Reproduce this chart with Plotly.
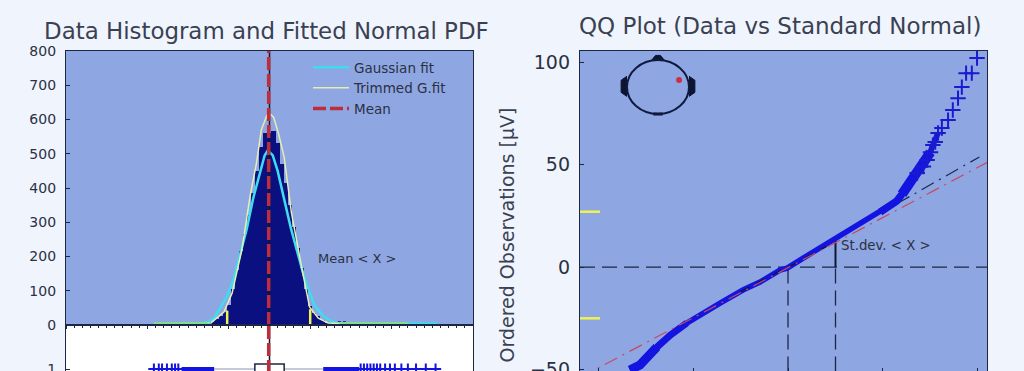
import plotly.graph_objects as go

# Histogram (bin centres in µV, counts)
hist_x = [-37.5,-35,-32.5,-30,-27.5,-25,-22.5,-20,-17.5,-15,-12.5,-10,-7.5,-5,-2.5,0,2.5,5,7.5,10,12.5,15,17.5,20,22.5,25,27.5,30,32.5,35,37.5]
hist_y = [3,8,18,27,38,58,105,160,215,265,320,385,450,520,560,560,565,530,470,415,350,285,225,165,105,55,35,25,15,7,3]
# Fitted curves
gauss_x = [-71,-45,-37.5,-34,-31,-26,-22,-18,-14,-10,-6,-3,-1,2,5,9,13,17,21,25,27.6,33,37,41,103]
gauss_y = [4,4,9,20,44,85,135,205,280,370,445,495,510,495,450,370,285,215,145,90,58,26,14,6,4]
trim_x = [-71,-45,-36,-28,-23,-17,-12,-8,-5,-2,-0.5,2.5,5.5,9,13.5,19.7,24.6,30,36,45,85]
trim_y = [4,4,6,38,93,219,374,473,570,607,620,607,560,490,327,170,53,20,6,4,4]
tail_low_x, tail_high_x = [-71,-38], [43,85]
tail_low_y, tail_high_y = [5,5], [5,5]
mean_x = [-0.5,-0.5]
mean_y = [0,800]
trim_mark_low_x, trim_mark_high_x = [-26,-26], [25,25]
trim_mark_low_y, trim_mark_high_y = [0,42], [0,46]
stray_x, stray_y = [42,48], [9,9]
# Boxplot row
box_x = [-9,-9,9,9,-9]
box_y = [0.8,1.25,1.25,0.8,0.8]
whisk_low_x, whisk_high_x = [-34,-9], [9,33]
solid_low_x, solid_high_x = [-54,-34], [33,55]
fliers_x = [-71,-68,-66,-63,-60,-58,-56,56,58,60,62,64,66,68,71,74,77,81,85,90,96,102]
fliers_y = [1]*len(fliers_x)
# QQ curve
qq_x = [-3.33,-3.12,-2.76,-2.48,-2.13,-1.79,-1.43,-0.95,-0.59,-0.17,-0.02,0.32,0.95,1.37,1.94,2.15,2.29,2.4,2.51,2.62,2.72,2.83,2.93,3.05,3.16]
qq_y = [-50.2,-47.8,-39.0,-33.2,-27.3,-22.4,-17.6,-11.2,-7.3,-1.5,-0.5,4.4,13.2,19.0,26.8,29.5,32.2,35.5,39.0,42.2,45.9,49,52.2,59.5,65.4]
qq_low_x, qq_low_y = [-3.33,-3.12,-2.76], [-50.2,-47.8,-39.0]
qq_lowmid_x, qq_lowmid_y = [-2.76,-2.48,-2.13], [-39.0,-33.2,-27.3]
qq_highmid_x, qq_highmid_y = [1.94,2.15,2.29,2.4], [26.8,29.5,32.2,35.5]
qq_high_x, qq_high_y = [2.4,2.51,2.62,2.72,2.83,2.93,3.0], [35.5,39.0,42.2,45.9,49,52.2,56]
tail_x = [2.72,2.85,2.93,3.0,3.05,3.1,3.16,3.24,3.37,3.47,3.58,3.66,3.75,3.87,3.98]
tail_y = [45.9,49,52.2,56,59.5,61,65.4,67.8,71.7,76.6,82.4,87.8,94.6,94.6,102]
red_x, red_y = [-4.38,4.19], [-53.9,51]
black_x, black_y = [2.3,4.03], [31,53.7]
black_core_x, black_core_y = [-1.0,-0.1,0.1,0.8], [-12,-1,1,10]
# Head inset
nose_x, nose_y = [-0.2,-0.08,0.08,0.2], [1.0,1.17,1.17,1.0]
lear_x, lear_y = [-1,-1.19,-1.19,-1], [0.4,0.25,-0.2,-0.35]
rear_x, rear_y = [1,1.19,1.19,1], [0.4,0.25,-0.2,-0.35]
chin_x, chin_y = [-0.15,0.15], [-1,-1]
elec_x, elec_y = [0.68], [0.26]

BG = "#eff4fd"; PLOT = "#8ea6e2"; FRAME = "#1c2745"; NAVY = "#0a1080"; BLUE = "#1414e0"
TXT = "#2b3142"; CYAN = "#3fdcf0"; PALE = "#e6eeb0"; RED = "#bd2e3c"; YEL = "#f2f250"; GREEN = "#80dc90"
FONT = "DejaVu Sans"

W, H = 1024, 371
def dx(a, b): return [a/W, b/W]
def dy(top, bot): return [1-bot/H, 1-top/H]

fig = go.Figure()
def L(**k): fig.add_trace(go.Scatter(mode="lines", hoverinfo="skip", showlegend=k.pop("showlegend", False), **k))

# upper left
fig.add_trace(go.Bar(x=hist_x, y=hist_y, width=2.6, marker=dict(color=NAVY, line_width=0), showlegend=False, xaxis="x", yaxis="y"))
L(x=stray_x, y=stray_y, line=dict(color=NAVY, width=1.5, dash="3px,2px"), xaxis="x", yaxis="y")
L(x=gauss_x, y=gauss_y, name="Gaussian fit", showlegend=True, line=dict(color=CYAN, width=2.5), xaxis="x", yaxis="y")
L(x=trim_x, y=trim_y, name="Trimmed G.fit", showlegend=True, line=dict(color=PALE, width=1.5), xaxis="x", yaxis="y")
L(x=tail_low_x, y=tail_low_y, line=dict(color=GREEN, width=2.5), xaxis="x", yaxis="y")
L(x=tail_high_x, y=tail_high_y, line=dict(color=GREEN, width=2.5), xaxis="x", yaxis="y")
L(x=trim_mark_low_x, y=trim_mark_low_y, line=dict(color=YEL, width=2.5), xaxis="x", yaxis="y")
L(x=trim_mark_high_x, y=trim_mark_high_y, line=dict(color=YEL, width=2.5), xaxis="x", yaxis="y")
L(x=[0,0], y=mean_y, line=dict(color="#101830", width=1.5), xaxis="x", yaxis="y")
L(x=mean_x, y=mean_y, name="Mean", showlegend=True, line=dict(color=RED, width=3.5, dash="13px,4px"), xaxis="x", yaxis="y")

# lower left
L(x=whisk_low_x, y=[1,1], line=dict(color="#8a93b8", width=1), xaxis="x2", yaxis="y2")
L(x=whisk_high_x, y=[1,1], line=dict(color="#8a93b8", width=1), xaxis="x2", yaxis="y2")
L(x=solid_low_x, y=[0.9,0.9], line=dict(color=BLUE, width=8), xaxis="x2", yaxis="y2")
L(x=solid_high_x, y=[0.9,0.9], line=dict(color=BLUE, width=8), xaxis="x2", yaxis="y2")
fig.add_trace(go.Scatter(x=fliers_x, y=fliers_y, mode="markers", hoverinfo="skip", showlegend=False,
                         marker=dict(symbol="cross-thin", size=8, line=dict(color=BLUE, width=2)), xaxis="x2", yaxis="y2"))
L(x=box_x, y=box_y, line=dict(color=FRAME, width=1.5), fill="toself", fillcolor="white", xaxis="x2", yaxis="y2")
L(x=[0,0], y=[0.8,3.2], line=dict(color="#101830", width=1.5), xaxis="x2", yaxis="y2")
L(x=mean_x, y=[0.8,3.2], line=dict(color=RED, width=3.5, dash="13px,4px"), xaxis="x2", yaxis="y2")

# QQ
DASH = "15px,7px"
L(x=[-4.38,4.19], y=[0,0], line=dict(color=FRAME, width=1.3, dash=DASH), xaxis="x3", yaxis="y3")
L(x=[0,0], y=[-51,-1], line=dict(color=FRAME, width=1.3, dash=DASH), xaxis="x3", yaxis="y3")
L(x=[1,1], y=[-51,0], line=dict(color=FRAME, width=1.3, dash=DASH), xaxis="x3", yaxis="y3")
L(x=[1,1], y=[0,13], line=dict(color="#101830", width=2), xaxis="x3", yaxis="y3")
L(x=[-4.38,-3.96], y=[27,27], line=dict(color=YEL, width=2.5), xaxis="x3", yaxis="y3")
L(x=[-4.38,-3.96], y=[-25,-25], line=dict(color=YEL, width=2.5), xaxis="x3", yaxis="y3")
L(x=black_x, y=black_y, line=dict(color="#1a2a50", width=1.2, dash="14px,6px,2px,6px"), xaxis="x3", yaxis="y3")
L(x=qq_x, y=qq_y, line=dict(color=BLUE, width=5.5), xaxis="x3", yaxis="y3")
L(x=qq_lowmid_x, y=qq_lowmid_y, line=dict(color=BLUE, width=7), xaxis="x3", yaxis="y3")
L(x=qq_low_x, y=qq_low_y, line=dict(color=BLUE, width=9), xaxis="x3", yaxis="y3")
L(x=qq_highmid_x, y=qq_highmid_y, line=dict(color=BLUE, width=7.5), xaxis="x3", yaxis="y3")
L(x=qq_high_x, y=qq_high_y, line=dict(color=BLUE, width=10), xaxis="x3", yaxis="y3")
fig.add_trace(go.Scatter(x=tail_x, y=tail_y, mode="markers", hoverinfo="skip", showlegend=False,
                         marker=dict(symbol="cross-thin", size=11, line=dict(color="#1a1ad0", width=2)), xaxis="x3", yaxis="y3"))
L(x=black_core_x, y=black_core_y, line=dict(color="#101850", width=1.5, dash="10px,8px"), xaxis="x3", yaxis="y3")
L(x=red_x, y=red_y, line=dict(color="#c84a60", width=1.2, dash="14px,6px,2px,6px"), xaxis="x3", yaxis="y3")

# head inset
for px_, py_ in [(nose_x, nose_y), (lear_x, lear_y), (rear_x, rear_y)]:
    L(x=px_, y=py_, fill="toself", fillcolor="#0c1430", line=dict(color="#0c1430", width=1), xaxis="x4", yaxis="y4")
L(x=chin_x, y=chin_y, line=dict(color="#0c1430", width=3), xaxis="x4", yaxis="y4")
fig.add_trace(go.Scatter(x=elec_x, y=elec_y, mode="markers", hoverinfo="skip", showlegend=False,
                         marker=dict(color="#cc3040", size=6), xaxis="x4", yaxis="y4"))

fig.add_shape(type="circle", xref="x4", yref="y4", x0=-1, x1=1, y0=-1, y1=1, line=dict(color="#101a40", width=2))
fig.add_shape(type="rect", xref="x2 domain", yref="y2 domain", x0=0, x1=1, y0=0, y1=1, fillcolor="white", line_width=0, layer="below")

frame = dict(showline=True, linecolor=FRAME, linewidth=1.3, mirror=True, showgrid=False, zeroline=False, automargin=False)
minor_ticks = dict(ticks="outside", ticklen=2, tickcolor=FRAME, dtick=5)
hidden = dict(visible=False, fixedrange=True, automargin=False)

tick_left = dict(size=14, color=TXT, family=FONT)
TITLE = "#3a4152"
fig.update_layout(
    template="none",
    width=W, height=H, autosize=False, margin=dict(l=0, r=0, t=0, b=0, autoexpand=False),
    paper_bgcolor=BG, plot_bgcolor=PLOT, bargap=0, barmode="overlay",
    font=dict(family=FONT, color=TXT),
    xaxis=dict(domain=dx(66,473), range=[-125,125], tick0=-125, dtick=50, ticks="outside", ticklen=3, tickcolor=FRAME,
               showticklabels=False, anchor="y", minor=minor_ticks, **frame),
    yaxis=dict(domain=dy(51,325), range=[0,800], tickvals=[0,100,200,300,400,500,600,700,800], ticks="inside", ticklen=4,
               tickcolor=FRAME, tickfont=tick_left, ticklabelstandoff=6, ticklabeloverflow="allow", anchor="x", **frame),
    xaxis2=dict(domain=dx(66,473), range=[-125,125], showticklabels=False, ticks="", anchor="y2", **frame),
    yaxis2=dict(domain=dy(325,371), range=[0.9,3.2], tickvals=[1], ticks="inside", ticklen=4, tickcolor=FRAME,
                tickfont=tick_left, ticklabelstandoff=6, ticklabeloverflow="allow", anchor="x2", **frame),
    xaxis3=dict(domain=dx(580,987), range=[-4.38,4.19], tickvals=[-4,-2,0,2,4], ticks="inside", ticklen=3, tickcolor=FRAME,
                showticklabels=False, anchor="y3", **frame),
    yaxis3=dict(domain=dy(51,371), range=[-50.7,105.4], tickvals=[-50,0,50,100], ticks="inside", ticklen=4, tickcolor=FRAME,
                tickfont=dict(size=19, color=TXT, family=FONT), ticklabelstandoff=5, ticklabeloverflow="allow", anchor="x3", **frame),
    xaxis4=dict(domain=dx(617.7,698.3), range=[-1.3,1.3], anchor="y4", **hidden),
    yaxis4=dict(domain=dy(51.9,122.1), range=[-1.3,1.3], anchor="x4", **hidden),
    legend=dict(x=308/W, y=1-52/H, xanchor="left", yanchor="top", bgcolor="rgba(0,0,0,0)", borderwidth=0,
                font=dict(size=13.5, color=TXT, family=FONT), itemwidth=36, tracegroupgap=0),
    annotations=[
        dict(text="Data Histogram and Fitted Normal PDF", xref="paper", yref="paper", x=266/W, y=1-31/H, showarrow=False,
             xanchor="center", yanchor="middle", font=dict(size=22.9, color=TITLE, family=FONT)),
        dict(text="QQ Plot (Data vs Standard Normal)", xref="paper", yref="paper", x=780/W, y=1-26/H, showarrow=False,
             xanchor="center", yanchor="middle", font=dict(size=23, color=TITLE, family=FONT)),
        dict(text="Ordered Observations [µV]", xref="paper", yref="paper", x=506/W, y=1-235.5/H, showarrow=False, textangle=-90,
             xanchor="center", yanchor="middle", font=dict(size=19, color=TITLE, family=FONT)),
        dict(text="Mean &lt; X &gt;", xref="x", yref="y", x=28.6, y=193, showarrow=False, xanchor="left", yanchor="middle",
             font=dict(size=13, color=TXT, family=FONT)),
        dict(text="St.dev. &lt; X &gt;", xref="x3", yref="y3", x=1.07, y=10.7, showarrow=False, xanchor="left", yanchor="middle",
             font=dict(size=13.3, color=TXT, family=FONT)),
    ],
)
fig.write_html("out.html", post_script="document.body.style.margin='0';document.body.style.overflow='hidden';",
               config={"displayModeBar": False})
